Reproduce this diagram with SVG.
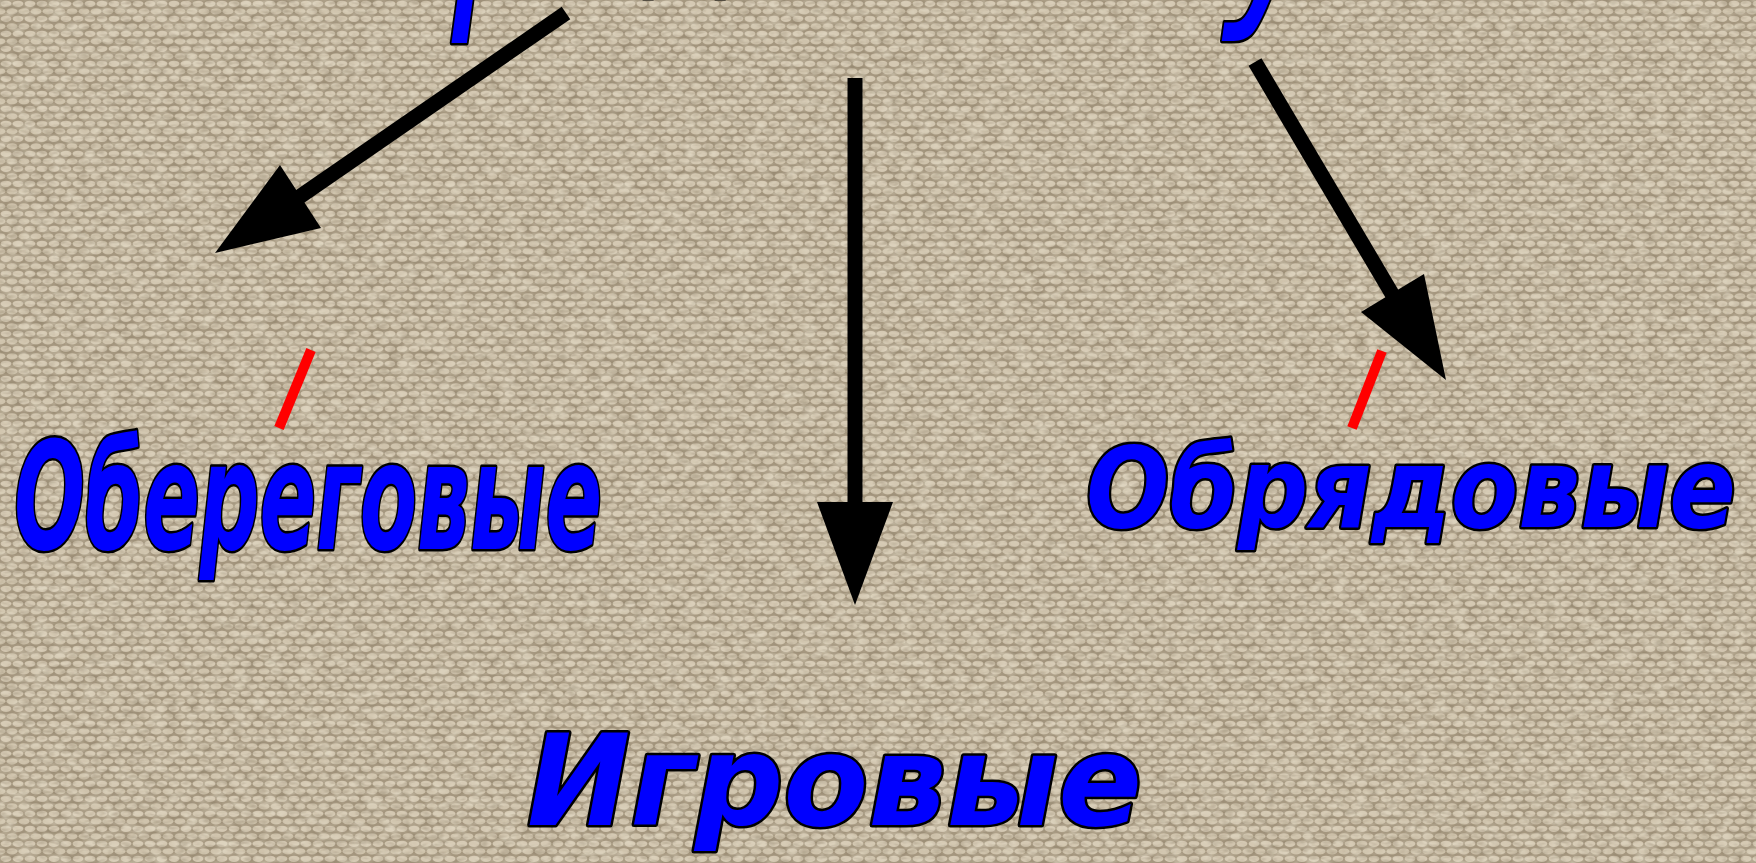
<svg xmlns="http://www.w3.org/2000/svg" width="1756" height="863" viewBox="0 0 1756 863">
<style>
.lbl{fill:#0000ff;stroke:#000;stroke-width:5;paint-order:stroke;stroke-linejoin:round;font-family:"DejaVu Sans",sans-serif;font-style:oblique;font-weight:bold;}
.ttl{fill:#0000ff;stroke:#000;stroke-width:5;paint-order:stroke;stroke-linejoin:round;font-family:"DejaVu Sans",sans-serif;font-style:oblique;}
.ln{stroke:#000;stroke-width:15;fill:none;}
.hd{fill:#000;}
.mark{stroke:#ff0000;stroke-width:10;}
</style>
<defs>
<pattern id="weave" width="12" height="15" patternUnits="userSpaceOnUse">
<rect width="12" height="15" fill="#a5977f"/>
<ellipse cx="6" cy="3.8" rx="5.4" ry="3.1" fill="#d4c8b2"/>
<ellipse cx="0" cy="11.3" rx="5.4" ry="3.1" fill="#cfc3ac"/>
<ellipse cx="12" cy="11.3" rx="5.4" ry="3.1" fill="#cfc3ac"/>
</pattern>
<filter id="vary" x="0" y="0" width="100%" height="100%">
<feTurbulence type="fractalNoise" baseFrequency="0.06 0.12" numOctaves="3" seed="4" result="t"/>
<feColorMatrix in="t" type="matrix" values="0 0 0 0 0  0 0 0 0 0  0 0 0 0 0  2.4 0 0 0 -0.95" result="a"/>
<feComposite in="SourceGraphic" in2="a" operator="in"/>
</filter>
<filter id="dark" x="0" y="0" width="100%" height="100%">
<feTurbulence type="fractalNoise" baseFrequency="0.09 0.2" numOctaves="2" seed="11" result="t"/>
<feColorMatrix in="t" type="matrix" values="0 0 0 0 0  0 0 0 0 0  0 0 0 0 0  2.6 0 0 0 -1.15" result="a"/>
<feComposite in="SourceGraphic" in2="a" operator="in"/>
</filter>
</defs>
<g id="background">
<rect width="1756" height="863" fill="url(#weave)"/>
<rect width="1756" height="863" fill="#e8dfcc" fill-opacity="0.5" filter="url(#vary)"/>
<rect width="1756" height="863" fill="#7d6f5a" fill-opacity="0.3" filter="url(#dark)"/>
</g>
<g id="title-fragment">
<text class="ttl" transform="translate(452,-8) scale(0.7,1)" font-size="245">р</text>
<text class="ttl" transform="translate(645,-30) scale(0.7,1)" font-size="200">д</text>
<text class="ttl" transform="translate(1226,-10) scale(0.7,1)" font-size="245">у</text>
</g>
<g id="connectors">
<line class="ln" x1="566" y1="13" x2="292" y2="202"/>
<polygon class="hd" points="215,253 280,165 321,228"/>
<line class="ln" x1="855" y1="78" x2="855" y2="505"/>
<polygon class="hd" points="817,502 893,502 855,605"/>
<line class="ln" x1="1255" y1="62" x2="1398" y2="304"/>
<polygon class="hd" points="1446,380 1361,312 1424,274"/>
</g>
<g id="marks">
<line class="mark" x1="311" y1="350" x2="279" y2="428"/>
<line class="mark" x1="1382" y1="351" x2="1352" y2="428"/>
</g>
<g id="node-oberegovye">
<text class="lbl" x="14" y="549" font-size="150" textLength="588" lengthAdjust="spacingAndGlyphs">Обереговые</text>
</g>
<g id="node-igrovye">
<text class="lbl" x="527" y="825" font-size="126" textLength="615" lengthAdjust="spacingAndGlyphs">Игровые</text>
</g>
<g id="node-obryadovye">
<text class="lbl" x="1086" y="527" font-size="112" textLength="650" lengthAdjust="spacingAndGlyphs">Обрядовые</text>
</g>
</svg>
